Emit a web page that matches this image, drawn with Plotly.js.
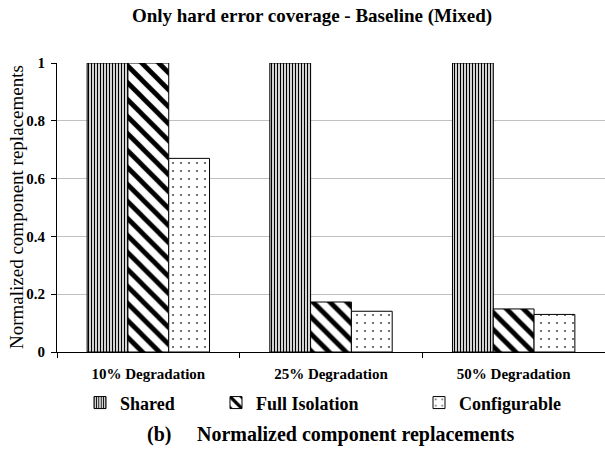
<!DOCTYPE html>
<html><head><meta charset="utf-8">
<script src="https://cdn.plot.ly/plotly-3.0.1.min.js"></script>
<style>html,body{margin:0;padding:0;background:#fff}#c{width:605px;height:453px}</style>
</head><body><div id="c"></div>
<script>
var categories = ["10% Degradation", "25% Degradation", "50% Degradation"];
var seriesNames = ["Shared", "Full Isolation", "Configurable"];
var shared = [1, 1, 1];
var fullIsolation = [1, 0.173, 0.149];
var configurable = [0.67, 0.141, 0.130];
var yTicks = [0, 0.2, 0.4, 0.6, 0.8, 1];
var yTickLabels = ["0", "0.2", "0.4", "0.6", "0.8", "1"];
var yTitle = "Normalized component replacements";

var F = "Liberation Serif, Times New Roman, serif";
function bar(name, vals, shape, size, solidity, fg, leg) {
  return {
    type: "bar", name: name, x: categories, y: vals, legend: leg,
    marker: {color: "#fff", line: {color: "#000", width: 1},
      pattern: {shape: shape, fgcolor: fg, bgcolor: "#fff", size: size, solidity: solidity, fillmode: "replace"}}
  };
}
var data = [
  bar(seriesNames[0], shared, "|", 3, 0.45, "#000", "legend"),
  bar(seriesNames[1], fullIsolation, "\\", 12, 0.4, "#000", "legend2"),
  bar(seriesNames[2], configurable, ".", 8, 0.06, "#555", "legend3")
];
var legFont = {family: F, size: 18, color: "#000", weight: "bold"};
function leg(x) {
  return {x: x, y: -0.176, xref: "paper", yref: "paper", xanchor: "left", yanchor: "middle",
    orientation: "h", font: legFont, itemwidth: 30, bgcolor: "rgba(0,0,0,0)", borderwidth: 0};
}
function px(v) { return (v - 57) / 548; }
function py(v) { return (352 - v) / 289; }
var layout = {
  width: 605, height: 453,
  margin: {l: 57, r: 0, t: 63, b: 101},
  paper_bgcolor: "#fff", plot_bgcolor: "#fff",
  barmode: "group", bargap: 0.33, bargroupgap: 0,
  title: {text: "<b>Only hard error coverage - Baseline (Mixed)</b>", font: {family: F, size: 19, color: "#000"},
    x: px(312), xref: "paper", xanchor: "center", y: 0.967, yanchor: "middle"},
  xaxis: {range: [-0.5, 2.5], showline: true, linecolor: "#000", linewidth: 1, ticks: "outside", tickson: "boundaries",
    ticklen: 5, tickcolor: "#000", ticklabelstandoff: 8,
    tickfont: {family: F, size: 15, color: "#000", weight: "bold"}, showgrid: false, fixedrange: true},
  yaxis: {range: [0, 1], tickvals: yTicks, ticktext: yTickLabels, showline: true, linecolor: "#000", linewidth: 1,
    ticks: "outside", ticklen: 5, tickcolor: "#000", gridcolor: "#c0c0c0", gridwidth: 1, zeroline: false,
    ticklabelstandoff: 3,
    tickfont: {family: F, size: 15, color: "#000", weight: "bold"}},
  legend: leg(px(80)), legend2: leg(px(216)), legend3: leg(px(419)),
  showlegend: true,
  annotations: [
    {text: yTitle, xref: "paper", yref: "paper", x: px(16), y: py(207), xanchor: "center", yanchor: "middle",
      textangle: -90, showarrow: false, font: {family: F, size: 19, color: "#000"}},
    {text: "<b>(b)</b>", xref: "paper", yref: "paper", x: px(145), y: -0.287, xanchor: "left", yanchor: "middle",
      showarrow: false, font: {family: F, size: 20, color: "#000"}},
    {text: "<b>Normalized component replacements</b>", xref: "paper", yref: "paper", x: px(195), y: -0.287,
      xanchor: "left", yanchor: "middle", showarrow: false, font: {family: F, size: 20, color: "#000"}}
  ]
};
Plotly.newPlot("c", data, layout, {displayModeBar: false, staticPlot: true});
</script></body></html>
